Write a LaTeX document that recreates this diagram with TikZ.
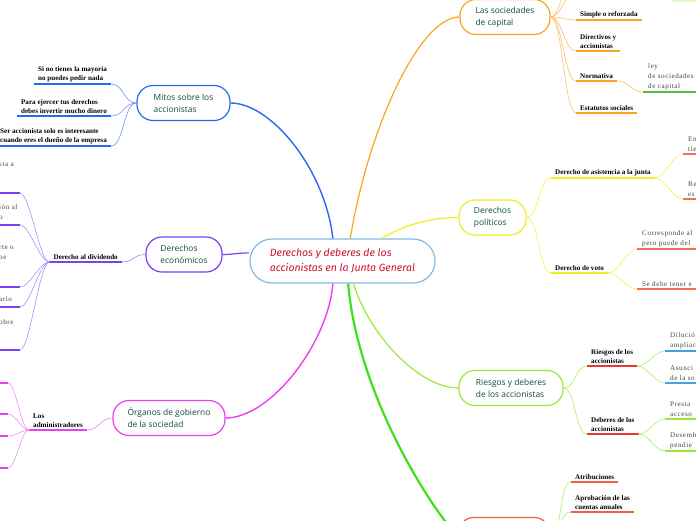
\documentclass[tikz,border=0pt]{standalone}
\usepackage{fontspec}
\usepackage{tikz}
\newfontfamily\topicfont{Open Sans}
\newfontfamily\subfont{Liberation Serif}
\newfontfamily\leaffont[LetterSpace=8]{Liberation Serif}
\newfontfamily\hubfont{Fira Sans}

\definecolor{ink}{HTML}{0D4F3C}
\definecolor{hubred}{HTML}{CC1133}
\definecolor{hubblue}{HTML}{80BBE4}
\definecolor{mblue}{HTML}{2B68F2}
\definecolor{morange}{HTML}{F9A423}
\definecolor{myellow}{HTML}{EEEE22}
\definecolor{mpurple}{HTML}{7B42F2}
\definecolor{mmagenta}{HTML}{E93FF0}
\definecolor{mlime}{HTML}{96EC34}
\definecolor{mgreen}{HTML}{3EE01A}
\definecolor{mred}{HTML}{EE3535}
\definecolor{msalmon}{HTML}{F26A60}
\definecolor{mcoral}{HTML}{F0603E}
\definecolor{mleafblue}{HTML}{3FA3E6}
\definecolor{mleafgreen}{HTML}{55BF45}
\definecolor{leafgray}{HTML}{444444}

\tikzset{
  topic/.style={draw=#1, line width=1.2pt, rounded corners=16pt, minimum height=35pt,
    inner xsep=12pt, align=left, text=ink, fill=white,
    font=\topicfont\fontsize{8.4}{12}\selectfont},
  sub/.style={inner xsep=4pt, inner ysep=2pt, align=left,
    font=\subfont\bfseries\fontsize{7.1}{9}\selectfont},
  leaf/.style={inner xsep=5pt, inner ysep=2pt, align=left, text width=60pt, text=leafgray,
    font=\leaffont\fontsize{7.1}{10}\selectfont},
  frag/.style={inner sep=0pt, align=left, text=leafgray, font=\leaffont\fontsize{7.1}{10}\selectfont},
  uline/.style={draw=#1, line width=1.5pt},
  twig/.style={to path={.. controls +(#1,0) and +({-(#1)},0) .. (\tikztotarget)}}
}

\begin{document}
\begin{tikzpicture}[x=1pt,y=-1pt]
    \useasboundingbox (0,0) rectangle (696,520);
    \clip (0,0) rectangle (696,520);
    \fill[mlime!30] (672,-10) rectangle (696,1.5);

    % main topics
    \node[topic=morange, minimum width=90pt] (las) at (505,17) {Las sociedades\\de capital};
    \node[topic=mblue, minimum width=93pt] (mitos) at (183.5,103) {Mitos sobre los\\accionistas};
    \node[topic=mpurple, minimum width=76pt] (econ) at (184,254.5) {Derechos\\económicos};
    \node[topic=mmagenta, minimum width=112pt] (organos) at (169,418) {Órganos de gobierno\\de la sociedad};
    \node[topic=myellow, minimum width=67pt] (polit) at (492.5,217.5) {Derechos\\políticos};
    \node[topic=mlime, minimum width=104pt] (riesg) at (511,388) {Riesgos y deberes\\de los accionistas};
    \node[topic=mcoral, minimum width=92pt] (bot) at (504,535) {};

    \node[draw=hubblue, line width=1.2pt, rounded corners=22pt, minimum width=181pt, minimum height=44pt,
      inner xsep=20pt, align=left, text=hubred, fill=white, font=\hubfont\itshape\fontsize{10.5}{15}\selectfont]
      (hub) at (342.5,261) {Derechos y deberes de los\\accionistas en la Junta General};

    \draw[mblue, line width=1.4pt] (hub.113) .. controls +(-8,-70) and +(40,0) .. (mitos.east);
    \draw[morange, line width=1.2pt] (hub.71) .. controls +(18,-110) and +(-40,0) .. (las.west);
    \draw[myellow, line width=1.2pt] (hub.30) .. controls +(25,-15) and +(-25,0) .. (polit.west);
    \draw[mpurple, line width=1.2pt] (hub.175) to[twig=-10] (econ.east);
    \draw[mmagenta, line width=1.4pt] (hub.247) .. controls +(-5,60) and +(45,0) .. (organos.east);
    \draw[mlime, line width=1.2pt] (hub.296) .. controls +(15,50) and +(-40,0) .. (riesg.west);
    \draw[mgreen, line width=2.2pt] (hub.284) .. controls +(10,117) and +(-18,-15) .. (bot.west);

    % Mitos
    \node[sub, anchor=south east] (sMay) at (111,84) {Si no tienes la mayoría\\no puedes pedir nada};
    \node[sub, anchor=south east] (sDin) at (111,116) {Para ejercer tus derechos\\debes invertir mucho dinero};
    \node[sub, anchor=south east] (sDue) at (111,146) {Ser accionista solo es interesante\\cuando eres el dueño de la empresa};
    \foreach \n in {sMay,sDin,sDue}{
      \draw[uline=mblue] (\n.south west) -- (\n.south east);
      \draw[mblue!70, line width=.6pt] (mitos.west) to[twig=-13] (\n.south east);
    }

    % Derechos economicos
    \node[sub, anchor=south east] (sDiv) at (122,262) {Derecho al dividendo};
    \draw[uline=mpurple] (sDiv.south west) -- (sDiv.south east);
    \draw[mpurple!70, line width=.6pt] (econ.west) to[twig=-12] (sDiv.south east);
    \foreach \y [count=\i] in {193,225,287,307,350}{
      \coordinate (d\i) at (20,\y);
      \draw[uline=mpurple] (d\i) -- ++(-30,0);
      \draw[mpurple!60, line width=.6pt] (sDiv.south west) to[twig=-10] (d\i);
    }
    \node[frag, anchor=west] (f1) at (-1,165) {sta a};
    \node[frag, anchor=west] (f2) at (-1,212) {ión al\\o};
    \node[frag, anchor=west] (f3) at (-1,253) {rte o\\be};
    \node[frag, anchor=west] (f4) at (-1,299) {ario};
    \node[frag, anchor=west] (f5) at (-1,322) {obre};

    % Organos
    \node[sub, anchor=south east] (sAdm) at (87,430) {Los\\administradores};
    \draw[uline=mmagenta] (sAdm.south west) -- (sAdm.south east);
    \draw[mmagenta!70, line width=.6pt] (organos.west) to[twig=-12] (sAdm.south east);
    \foreach \y [count=\i] in {383,414,436,468}{
      \coordinate (o\i) at (8,\y);
      \draw[uline=mmagenta] (o\i) -- ++(-20,0);
      \draw[mmagenta!60, line width=.6pt] (sAdm.south west) to[twig=-8] (o\i);
    }

    % Las sociedades de capital
    \node[sub, anchor=south west] (sSimple) at (576,20) {Simple o reforzada};
    \node[sub, anchor=south west] (sDirect) at (576,51) {Directivos y\\accionistas};
    \node[sub, anchor=south west] (sNorm) at (576,81) {Normativa};
    \node[sub, anchor=south west] (sEstat) at (576,113) {Estatutos sociales};
    \coordinate (sTop1) at (578,-12);
    \coordinate (sTop2) at (578,-40);
    \foreach \n in {sSimple,sDirect,sNorm,sEstat}{
      \draw[uline=morange] (\n.south west) -- (\n.south east);
      \draw[morange!70, line width=.6pt] (las.east) to[twig=12] (\n.south west);
    }
    \foreach \n in {sTop1,sTop2}
      \draw[morange!70, line width=.6pt] (las.east) to[twig=12] (\n);
    \node[leaf, anchor=south west] (lLey) at (643,92) {ley\\de sociedades\\de capital};
    \draw[uline=mleafgreen] (lLey.south west) -- (lLey.south east);
    \draw[morange!70, line width=.6pt] (sNorm.south east) to[twig=12] (lLey.south west);

    % Derechos politicos
    \node[sub, anchor=south west] (sAsist) at (551,178) {Derecho de asistencia a la junta};
    \node[sub, anchor=south west] (sVoto) at (551,273) {Derecho de voto};
    \foreach \n in {sAsist,sVoto}{
      \draw[uline=myellow] (\n.south west) -- (\n.south east);
      \draw[myellow!80, line width=.6pt] (polit.east) to[twig=12] (\n.south west);
    }
    \node[leaf, anchor=south west] (lEn) at (683,154) {En\\tie};
    \node[leaf, anchor=south west] (lRe) at (683,199) {Re\\es};
    \node[leaf, anchor=south west] (lCorr) at (637,249) {Corresponde al\\pero puede del};
    \node[leaf, anchor=south west] (lSe) at (637,289) {Se debe tener e};
    \foreach \n/\p in {lEn/sAsist,lRe/sAsist,lCorr/sVoto,lSe/sVoto}{
      \draw[uline=msalmon] (\n.south west) -- (\n.south east);
      \draw[myellow!80, line width=.6pt] (\p.south east) to[twig=10] (\n.south west);
    }

    % Riesgos y deberes
    \node[sub, anchor=south west] (sRiesg) at (587,366) {Riesgos de los\\accionistas};
    \node[sub, anchor=south west] (sDeber) at (587,434) {Deberes de los\\accionistas};
    \foreach \n in {sRiesg,sDeber}{
      \draw[uline=mred] (\n.south west) -- (\n.south east);
      \draw[mlime!80, line width=.6pt] (riesg.east) to[twig=12] (\n.south west);
    }
    \node[leaf, anchor=south west] (lDil) at (665,351) {Dilució\\ampliac};
    \node[leaf, anchor=south west] (lAsun) at (665,383) {Asunci\\de la so};
    \node[leaf, anchor=south west] (lPres) at (665,419) {Presta\\acceso};
    \node[leaf, anchor=south west] (lDes) at (665,451) {Desemb\\pendie};
    \foreach \n/\p/\c in {lDil/sRiesg/mleafblue,lAsun/sRiesg/mleafblue,lPres/sDeber/mlime,lDes/sDeber/mlime}{
      \draw[uline=\c] (\n.south west) -- (\n.south east);
      \draw[mlime!80, line width=.6pt] (\p.south east) to[twig=10] (\n.south west);
    }

    % bottom topic
    \node[sub, anchor=south west] (sAtrib) at (571,482) {Atribuciones};
    \node[sub, anchor=south west] (sAprob) at (571,512) {Aprobación de las\\cuentas anuales};
    \foreach \n in {sAtrib,sAprob}{
      \draw[uline=mcoral] (\n.south west) -- (\n.south east);
      \draw[mlime!80, line width=.6pt] (bot.east) to[twig=12] (\n.south west);
    }
\end{tikzpicture}
\end{document}
